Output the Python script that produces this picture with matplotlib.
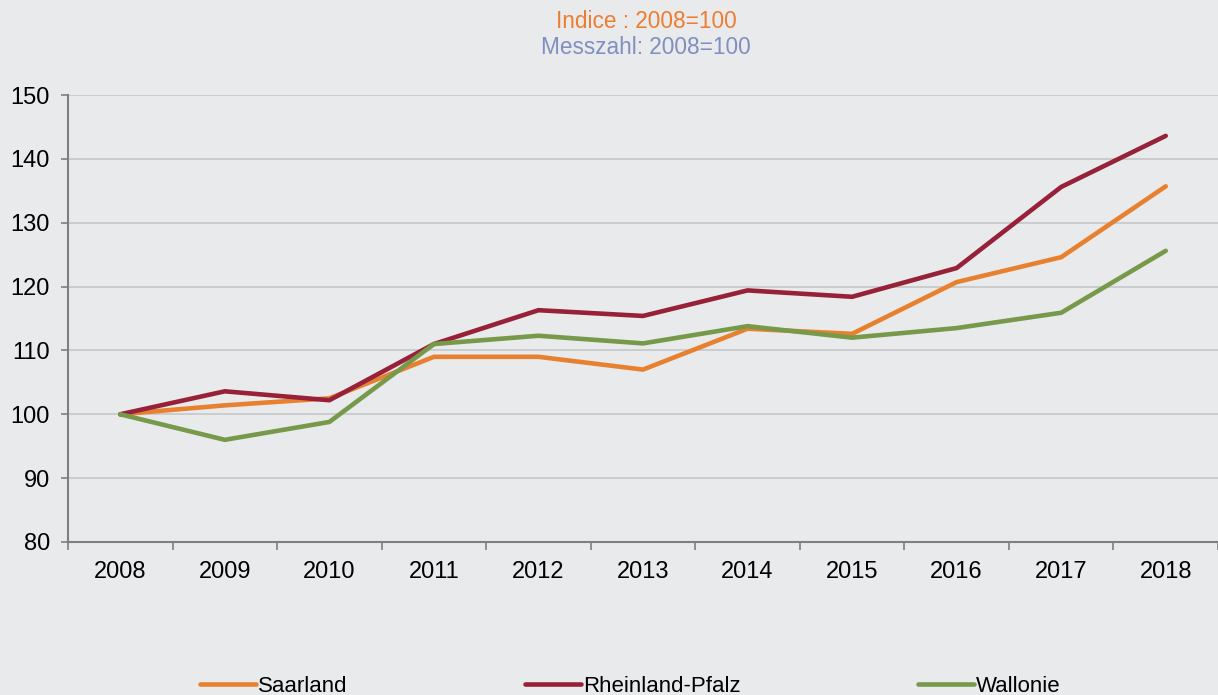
import numpy as np
import matplotlib.pyplot as plt
from matplotlib.ticker import FixedLocator, NullFormatter

plt.rcParams['font.family'] = ['Liberation Sans', 'DejaVu Sans']

# data
years = ['2008', '2009', '2010', '2011', '2012', '2013', '2014', '2015', '2016', '2017', '2018']
saarland = [100, 101.4, 102.5, 109.0, 109.0, 107.0, 113.4, 112.6, 120.7, 124.6, 135.7]
rheinland_pfalz = [100, 103.6, 102.2, 111.0, 116.3, 115.4, 119.4, 118.4, 122.9, 135.6, 143.6]
wallonie = [100, 96.0, 98.8, 111.0, 112.3, 111.1, 113.8, 112.0, 113.5, 115.9, 125.6]

bg = '#E9EAEC'
fig = plt.figure(figsize=(12.18, 6.95), dpi=100, facecolor=bg)
ax = fig.add_axes([68 / 1218, 1 - 542 / 695, 1150 / 1218, (542 - 95) / 695])
ax.set_facecolor(bg)

x = np.arange(len(years))
ax.plot(x, saarland, color='#E8812F', lw=3.3, label='Saarland', solid_capstyle='round')
ax.plot(x, rheinland_pfalz, color='#962139', lw=3.3, label='Rheinland-Pfalz', solid_capstyle='round')
ax.plot(x, wallonie, color='#76994A', lw=3.3, label='Wallonie', solid_capstyle='round')

ax.set_xlim(-0.5, len(years) - 0.5)
ax.set_ylim(80, 150)
ax.set_yticks(range(80, 151, 10))
ax.grid(axis='y', color='#C6C7C9', lw=1.2)
ax.set_axisbelow(True)

ax.set_xticks(x)
ax.set_xticklabels(years)
ax.xaxis.set_minor_locator(FixedLocator(np.arange(-0.5, len(years), 1)))
ax.xaxis.set_minor_formatter(NullFormatter())
ax.tick_params(axis='x', which='major', length=0, pad=14, labelsize=17)
ax.tick_params(axis='x', which='minor', length=6, width=1.2, color='#7F7F7F')
ax.tick_params(axis='y', length=5, width=1.2, color='#7F7F7F', labelsize=17, pad=8)

for s in ['top', 'right']:
    ax.spines[s].set_visible(False)
for s in ['left', 'bottom']:
    ax.spines[s].set_color('#7F7F7F')
    ax.spines[s].set_linewidth(1.5)

fig.text(646 / 1218, 1 - 22 / 695, 'Indice : 2008=100', color='#ED7D31', fontsize=16.3,
         ha='center', va='center')
fig.text(646 / 1218, 1 - 48 / 695, 'Messzahl: 2008=100', color='#7F8FC0', fontsize=16.3,
         ha='center', va='center')

leg = fig.legend(loc='center left', bbox_to_anchor=(200 / 1218, 1 - 686 / 695), ncol=3,
                 frameon=False, handlelength=2.5, handletextpad=0.1,
                 columnspacing=8.0, borderpad=0, borderaxespad=0,
                 prop={'family': ['Liberation Sans', 'DejaVu Sans'], 'size': 16})

fig.savefig('out.png', dpi=100, facecolor=bg)
